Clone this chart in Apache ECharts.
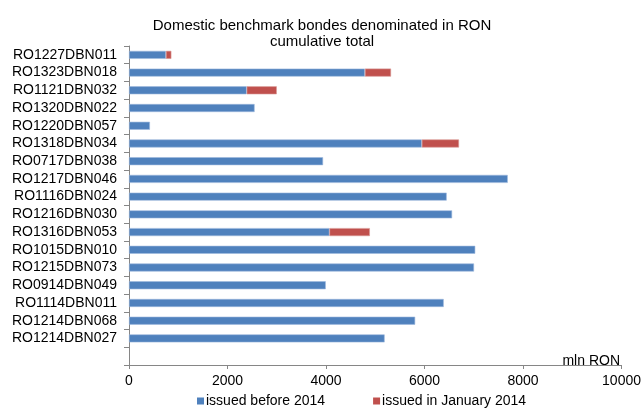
<!DOCTYPE html>
<html>
<head>
<meta charset="utf-8">
<script src="https://cdn.jsdelivr.net/npm/echarts@6/dist/echarts.min.js"></script>
<style>
  html, body { margin: 0; padding: 0; background: #fff; }
  #chart { width: 644px; height: 415px; }
</style>
</head>
<body>
<div id="chart"></div>
<script>
// Bond codes, top to bottom; the trailing blank slot keeps room above the x axis for the unit label
const bonds = [
  'RO1227DBN011', 'RO1323DBN018', 'RO1121DBN032', 'RO1320DBN022', 'RO1220DBN057',
  'RO1318DBN034', 'RO0717DBN038', 'RO1217DBN046', 'RO1116DBN024', 'RO1216DBN030',
  'RO1316DBN053', 'RO1015DBN010', 'RO1215DBN073', 'RO0914DBN049', 'RO1114DBN011',
  'RO1214DBN068', 'RO1214DBN027', ''
];

// Outstanding amounts, mln RON
const issuedBefore2014 = [
  750, 4790, 2390, 2550, 425,
  5945, 3940, 7690, 6450, 6560,
  4070, 7030, 7005, 3995, 6390,
  5810, 5190, null
];
const issuedJan2014 = [
  110, 530, 610, null, null,
  755, null, null, null, null,
  820, null, null, null, null,
  null, null, null
];

const seriesNames = ['issued before 2014', 'issued in January 2014'];
const titleLines = ['Domestic benchmark bondes denominated in RON', 'cumulative total'];
const unitLabel = 'mln RON';

const FONT = 'Liberation Sans, Arial, sans-serif';
const AXIS_GREY = '#868686';

const chart = echarts.init(document.getElementById('chart'), null, { renderer: 'canvas' });

chart.setOption({
  animation: false,
  backgroundColor: '#ffffff',
  title: [
    {
      text: titleLines[0],
      subtext: titleLines[1],
      left: 'center',
      top: 13,
      itemGap: 1,
      textStyle: { fontFamily: FONT, fontSize: 15, fontWeight: 'normal', color: '#000' },
      subtextStyle: { fontFamily: FONT, fontSize: 15, color: '#000' }
    },
    {
      text: unitLabel,
      right: 19,
      top: 349,
      textStyle: { fontFamily: FONT, fontSize: 14, fontWeight: 'normal', color: '#000' }
    }
  ],
  legend: {
    data: seriesNames,
    left: 192,
    top: 389,
    icon: 'rect',
    itemWidth: 7,
    itemHeight: 7,
    itemGap: 48,
    itemStyle: { borderWidth: 0 },
    textStyle: { fontFamily: FONT, fontSize: 14, color: '#000', padding: [0, 0, 0, -3] }
  },
  grid: { left: 129, right: 20, top: 46, bottom: 50, containLabel: false },
  xAxis: {
    type: 'value',
    min: 0,
    max: 10000,
    interval: 2000,
    axisLine: { show: true, lineStyle: { color: AXIS_GREY, width: 1 } },
    axisTick: { show: true, length: 4, lineStyle: { color: AXIS_GREY } },
    splitLine: { show: false },
    axisLabel: {
      fontFamily: FONT, fontSize: 14, color: '#000', margin: 9,
      formatter: (v) => String(v)
    }
  },
  yAxis: {
    type: 'category',
    inverse: true,
    data: bonds,
    axisLine: { show: true, lineStyle: { color: AXIS_GREY, width: 1 } },
    axisTick: { show: true, interval: 0, length: 5, alignWithLabel: false, lineStyle: { color: AXIS_GREY } },
    axisLabel: { interval: 0, fontFamily: FONT, fontSize: 14, color: '#000', margin: 12 }
  },
  series: [
    {
      name: seriesNames[0],
      type: 'bar',
      stack: 'total',
      barWidth: 8,
      data: issuedBefore2014,
      itemStyle: { color: '#4F81BD', borderColor: '#9DB9DD', borderWidth: 0.6 }
    },
    {
      name: seriesNames[1],
      type: 'bar',
      stack: 'total',
      barWidth: 8,
      data: issuedJan2014,
      itemStyle: { color: '#C0504D', borderColor: '#D99794', borderWidth: 0.6 }
    }
  ]
});
</script>
</body>
</html>
